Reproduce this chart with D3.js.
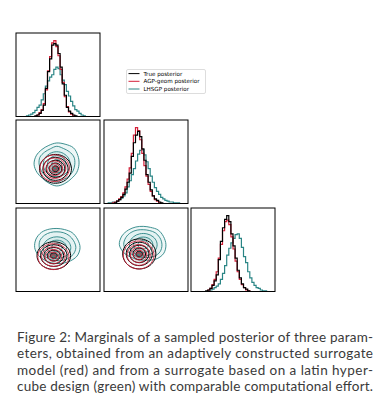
<!DOCTYPE html>
<html>
<head>
<meta charset="utf-8">
<script src="https://cdn.jsdelivr.net/npm/d3@7"></script>
<style>
  html, body { margin: 0; padding: 0; background: #fff; }
  svg { display: block; }
</style>
</head>
<body>
<svg id="chart" width="384" height="408"></svg>
<script>
// histogram counts, 40 bins per parameter
var p1True = [0,0,0,0,0,0,0,0,0,1, 2,4,8,15,37,59,76,94,96,94, 83,65,43,28,12,7,4,2,1,0, 0,0,0,0,0,0,0,0,0,0];
var p1Agp  = [0,0,0,0,0,0,0,0,0,0, 2,5,9,17,35,60,79,97,100,92, 80,62,45,26,13,6,3,1,0,0, 0,0,0,0,0,0,0,0,0,0];
var p1Lhs  = [0,0,0,0,0,1,2,3,5,8, 12,15,22,30,40,47,52,55,62,65, 63,55,48,42,33,27,20,14,9,7, 4,2,1,0,0,0,0,0,0,0];

var p2True = [0,0,0,0,0,1,3,5,8,12, 19,28,40,62,80,90,95,88,72,57, 38,28,18,10,6,4,2,1,0,0, 0,0,0,0,0,0,0,0,0,0];
var p2Agp  = [0,0,0,0,1,2,3,6,9,14, 22,32,47,66,90,100,96,84,66,50, 36,25,16,10,5,3,1,0,0,0, 0,0,0,0,0,0,0,0,0,0];
var p2Lhs  = [0,0,1,1,2,2,3,5,7,10, 14,22,30,38,46,56,65,70,71,64, 55,46,36,28,21,16,12,8,6,4, 3,2,2,1,1,1,0,0,0,0];

var p3True = [0,0,0,0,0,0,0,1,2,4, 8,14,22,42,66,84,95,100,92,76, 60,44,28,18,10,5,3,1,0,0, 0,0,0,0,0,0,0,0,0,0];
var p3Agp  = [0,0,0,0,0,0,0,0,2,4, 9,16,26,44,62,80,92,94,88,72, 56,40,26,16,9,5,2,1,0,0, 0,0,0,0,0,0,0,0,0,0];
var p3Lhs  = [0,0,0,0,0,0,0,0,1,2, 3,5,7,10,16,24,34,48,57,64, 70,75,76,70,58,46,38,26,18,12, 8,5,4,2,1,1,0,0,0,0];

// 2D contour rings (in bin units): centres, [rx, ry] ellipses or radius profiles
var c21True = [18.8, 16.6];
var r21True = [[7.6,6.9],[6.0,5.5],[4.5,4.1],[3.0,2.8],[1.5,1.4]];
var c21Agp  = [18.4, 16.9];
var r21Agp  = [[7.0,6.4],[5.3,4.9],[3.8,3.5],[2.4,2.2],[1.1,1.0]];
var c21Lhs  = [19.4, 18.8];
var r21Lhs  = [
  [10.6,10.9,11.2,10.4,10.2,9.8,10.0,10.6,10.8,10.2,9.6,9.8,10.4,10.0,9.8,10.3],
  [8.6,8.9,8.5,8.2,8.6,8.0,8.2,8.7,8.4,8.0,7.8,8.2,8.5,8.0,8.2,8.4],
  [6.4,6.0],[4.4,4.1],[2.4,2.2]];

var c31True = [18.0, 17.2];
var r31True = [[8.0,6.6],[6.3,5.2],[4.7,3.9],[3.1,2.6],[1.6,1.3]];
var c31Agp  = [17.8, 16.7];
var r31Agp  = [[7.4,6.2],[5.6,4.7],[4.0,3.4],[2.5,2.1],[1.2,1.0]];
var c31Lhs  = [19.5, 21.0];
var r31Lhs  = [
  [11.0,10.6,10.2,9.4,9.2,9.6,10.4,10.8,10.6,9.6,8.4,7.8,7.6,8.0,9.0,10.4],
  [9.0,8.6,8.2,7.8,7.6,7.9,8.4,8.8,8.4,7.8,6.8,6.4,6.2,6.6,7.4,8.4],
  [6.6,5.2],[4.6,3.6],[2.5,2.0]];

var c32True = [16.8, 18.0];
var r32True = [[7.9,7.2],[6.2,5.6],[4.6,4.2],[3.0,2.8],[1.5,1.4]];
var c32Agp  = [16.5, 17.5];
var r32Agp  = [[7.3,6.7],[5.5,5.0],[3.9,3.6],[2.5,2.3],[1.2,1.1]];
var c32Lhs  = [18.7, 22.4];
var r32Lhs  = [
  [10.8,10.4,10.0,9.0,8.8,9.2,10.0,11.0,11.4,10.0,8.4,7.6,7.4,8.0,9.4,10.6],
  [8.9,8.6,8.1,7.4,7.2,7.6,8.3,9.0,9.3,8.2,6.9,6.2,6.1,6.6,7.7,8.7],
  [6.6,5.4],[4.6,3.7],[2.5,2.0]];

var legendLabels = ["True posterior", "AGP-geom posterior", "LHSGP posterior"];
var captionLines = [
  "Figure 2: Marginals of a sampled posterior of three param-",
  "eters, obtained from an adaptively constructed surrogate",
  "model (red) and from a surrogate based on a latin hyper-",
  "cube design (green) with comparable computational effort."
];

var colTrue = "#000000", colAgp = "#d42039", colLhs = "#2a8585";
var colX = [16, 104, 191], rowY = [33, 120, 208], pw = 84, ph = 83.5;
var nBins = 40;

var svg = d3.select("#chart");

function panelScales(c, r) {
  return {
    x: d3.scaleLinear().domain([0, nBins]).range([colX[c], colX[c] + pw]),
    y: d3.scaleLinear().domain([0, nBins]).range([rowY[r] + ph, rowY[r]])
  };
}

var clipN = 0;
function panelGroup(c, r) {
  var id = "clip" + (clipN++);
  svg.append("clipPath").attr("id", id)
    .append("rect").attr("x", colX[c]).attr("y", rowY[r]).attr("width", pw).attr("height", ph);
  return svg.append("g").attr("clip-path", "url(#" + id + ")");
}

function frame(c, r) {
  svg.append("rect")
    .attr("x", colX[c]).attr("y", rowY[r]).attr("width", pw).attr("height", ph)
    .attr("fill", "none").attr("stroke", "#000").attr("stroke-width", 1);
}

// 1D histograms on the diagonal
function histPanel(i, series) {
  var g = panelGroup(i, i);
  var x = d3.scaleLinear().domain([0, nBins]).range([colX[i], colX[i] + pw]);
  var top = d3.max(series, function (s) { return d3.max(s.values); }) * 1.1;
  var y = d3.scaleLinear().domain([0, top]).range([rowY[i] + ph, rowY[i]]);
  var line = d3.line()
    .x(function (d) { return x(d[0]); })
    .y(function (d) { return y(d[1]); })
    .curve(d3.curveStepAfter);
  series.forEach(function (s) {
    var pts = [[0, 0]].concat(s.values.map(function (v, k) { return [k, v]; }));
    pts.push([nBins, 0]);
    g.append("path").attr("d", line(pts))
      .attr("fill", "none").attr("stroke", s.color).attr("stroke-width", 1.2);
  });
  frame(i, i);
}

function ringPath(center, ring, sc) {
  var n = ring.length === 2 ? 24 : ring.length;
  var pts = d3.range(n).map(function (k) {
    var a = k / n * 2 * Math.PI;
    var rx = ring.length === 2 ? ring[0] : ring[k];
    var ry = ring.length === 2 ? ring[1] : ring[k];
    return [sc.x(center[0] + rx * Math.cos(a)), sc.y(center[1] + ry * Math.sin(a))];
  });
  return d3.line().curve(d3.curveCatmullRomClosed)(pts);
}

var lhsFills = ["#eef7f7", "#e4f2f2", "#d8ecec", "#c8e3e3", "#b0d6d6"];
var trueFills = ["#fbfcfc", "#f2f4f4", "#e1e4e4", "#b9bfbf", "#6b7373"];

function contourPanel(c, r, sets) {
  var g = panelGroup(c, r);
  var sc = panelScales(c, r);
  // filled levels first
  sets.forEach(function (s) {
    if (!s.fills) return;
    s.rings.forEach(function (ring, k) {
      g.append("path").attr("d", ringPath(s.center, ring, sc))
        .attr("fill", s.fills[k]).attr("stroke", "none");
    });
  });
  // contour lines on top
  sets.forEach(function (s) {
    s.rings.forEach(function (ring) {
      g.append("path").attr("d", ringPath(s.center, ring, sc))
        .attr("fill", "none").attr("stroke", s.color).attr("stroke-width", s.width);
    });
  });
  frame(c, r);
}

histPanel(0, [
  { values: p1Lhs, color: colLhs },
  { values: p1Agp, color: colAgp },
  { values: p1True, color: colTrue }
]);
histPanel(1, [
  { values: p2Lhs, color: colLhs },
  { values: p2Agp, color: colAgp },
  { values: p2True, color: colTrue }
]);
histPanel(2, [
  { values: p3Lhs, color: colLhs },
  { values: p3Agp, color: colAgp },
  { values: p3True, color: colTrue }
]);

contourPanel(0, 1, [
  { center: c21Lhs, rings: r21Lhs, color: colLhs, fills: lhsFills, width: 0.9 },
  { center: c21True, rings: r21True, color: colTrue, fills: trueFills, width: 1 },
  { center: c21Agp, rings: r21Agp, color: colAgp, width: 0.9 }
]);
contourPanel(0, 2, [
  { center: c31Lhs, rings: r31Lhs, color: colLhs, fills: lhsFills, width: 0.9 },
  { center: c31True, rings: r31True, color: colTrue, fills: trueFills, width: 1 },
  { center: c31Agp, rings: r31Agp, color: colAgp, width: 0.9 }
]);
contourPanel(1, 2, [
  { center: c32Lhs, rings: r32Lhs, color: colLhs, fills: lhsFills, width: 0.9 },
  { center: c32True, rings: r32True, color: colTrue, fills: trueFills, width: 1 },
  { center: c32Agp, rings: r32Agp, color: colAgp, width: 0.9 }
]);

// legend
var legend = svg.append("g");
legend.append("rect")
  .attr("x", 126.5).attr("y", 69.5).attr("width", 79).attr("height", 24)
  .attr("rx", 1.5).attr("fill", "#fff").attr("stroke", "#d4d4d4").attr("stroke-width", 0.8);
var legendColors = [colTrue, colAgp, colLhs];
legendLabels.forEach(function (lab, k) {
  var yy = 73.6 + k * 7.7;
  legend.append("line")
    .attr("x1", 128.5).attr("x2", 139.5).attr("y1", yy).attr("y2", yy)
    .attr("stroke", legendColors[k]).attr("stroke-width", 1);
  legend.append("text")
    .attr("x", 143.5).attr("y", yy + 2)
    .attr("font-family", "DejaVu Sans").attr("font-size", 5.6)
    .attr("fill", "#000").text(lab);
});

// caption, justified
svg.selectAll("text.caption")
  .data(captionLines)
  .enter()
  .append("text")
  .attr("class", "caption")
  .attr("x", 17)
  .attr("y", function (d, k) { return 341.5 + k * 16.5; })
  .attr("textLength", 356)
  .attr("lengthAdjust", "spacing")
  .attr("font-family", "Lato")
  .attr("font-size", 13.5)
  .attr("fill", "#3a3a3a")
  .text(function (d) { return d; });
</script>
</body>
</html>
